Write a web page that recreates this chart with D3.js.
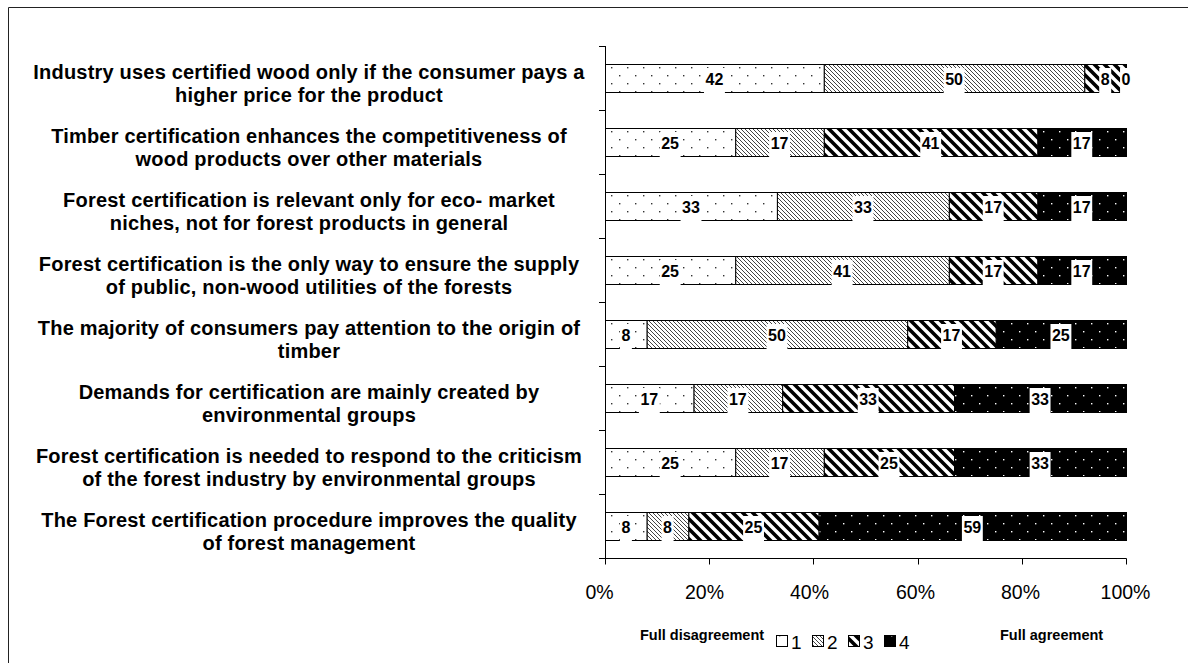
<!DOCTYPE html>
<html>
<head>
<meta charset="utf-8">
<script src="https://cdn.jsdelivr.net/npm/d3@7"></script>
<style>
  html, body { margin: 0; padding: 0; background: #fff; }
  svg { display: block; }
  text { font-family: "Liberation Sans", Arial, sans-serif; fill: #000; }
</style>
</head>
<body>
<svg id="chart" width="1188" height="663"></svg>
<script>
// Survey statements (two lines each), top to bottom
const statements = [
  ["Industry uses certified wood only if the consumer pays a", "higher price for the product"],
  ["Timber certification enhances the competitiveness of", "wood products over other materials"],
  ["Forest certification is relevant only for eco- market", "niches, not for forest products in general"],
  ["Forest certification is the only way to ensure the supply", "of public, non-wood utilities of the forests"],
  ["The majority of consumers pay attention to the origin of", "timber"],
  ["Demands for certification are mainly created by", "environmental groups"],
  ["Forest certification is needed to respond to the criticism", "of the  forest industry by environmental groups"],
  ["The Forest certification procedure improves the quality", "of forest management"]
];

// Share of answers (%) per agreement level 1..4, same order as statements
const level1 = [42, 25, 33, 25, 8, 17, 25, 8];
const level2 = [50, 17, 33, 41, 50, 17, 17, 8];
const level3 = [8, 41, 17, 17, 17, 33, 25, 25];
const level4 = [0, 17, 17, 17, 25, 33, 33, 59];

const levelKeys = ["1", "2", "3", "4"];
const xTicks = [0, 20, 40, 60, 80, 100];

const rows = statements.map((s, i) => ({
  id: i,
  label: s,
  "1": level1[i], "2": level2[i], "3": level3[i], "4": level4[i]
}));

const svg = d3.select("#chart");

// Fill patterns for the four levels
const defs = svg.append("defs");
function dotPattern(id, bg, dot) {
  const p = defs.append("pattern").attr("id", id)
    .attr("patternUnits", "userSpaceOnUse").attr("width", 16).attr("height", 16);
  p.append("rect").attr("width", 16).attr("height", 16).attr("fill", bg);
  p.append("rect").attr("x", 3).attr("y", 3).attr("width", 1.4).attr("height", 1.4).attr("fill", dot);
  p.append("rect").attr("x", 11).attr("y", 11).attr("width", 1.4).attr("height", 1.4).attr("fill", dot);
}
function diagPattern(id, size, width, color) {
  const p = defs.append("pattern").attr("id", id)
    .attr("patternUnits", "userSpaceOnUse").attr("width", size).attr("height", size);
  p.append("rect").attr("width", size).attr("height", size).attr("fill", "#fff");
  const s = size;
  p.append("path")
    .attr("d", `M${-s},0 L${s},${2 * s} M0,0 L${s},${s} M0,${-s} L${2 * s},${s}`)
    .attr("stroke", color).attr("stroke-width", width).attr("fill", "none");
}
dotPattern("pat1", "#fff", "#333");
diagPattern("pat2", 4, 1, "#444");
diagPattern("pat3", 10, 3.6, "#000");
dotPattern("pat4", "#000", "#fff");
const fillFor = k => `url(#pat${k})`;

// Outer frame (left and top edges)
svg.append("path")
  .attr("d", "M8.5,663 L8.5,7.5 L1188,7.5")
  .attr("fill", "none").attr("stroke", "#222").attr("stroke-width", 1);

const plotLeft = 605, plotRight = 1126, plotTop = 46, plotBottom = 558;

const x = d3.scaleLinear().domain([0, 100]).range([plotLeft, plotRight]);
const y = d3.scaleBand().domain(rows.map(d => d.id)).range([plotTop, plotBottom])
  .paddingInner(0.5625).paddingOuter(0.28125);

const stacked = d3.stack().keys(levelKeys)(rows);

// Bars
const g = svg.append("g");
stacked.forEach(layer => {
  g.selectAll(null).data(layer.filter(d => d[1] - d[0] > 0)).enter().append("rect")
    .attr("x", d => x(d[0]) + 0.5)
    .attr("y", d => Math.round(y(d.data.id)) + 0.5)
    .attr("width", d => x(d[1]) - x(d[0]))
    .attr("height", Math.round(y.bandwidth()))
    .attr("fill", fillFor(layer.key))
    .attr("stroke", "#000").attr("stroke-width", 1);
});

// Value labels with white backing
stacked.forEach(layer => {
  layer.forEach(d => {
    const v = d[1] - d[0];
    const cx = x((d[0] + d[1]) / 2);
    const cy = Math.round(y(d.data.id)) + y.bandwidth() / 2;
    const t = g.append("text")
      .attr("x", cx).attr("y", cy + 1)
      .attr("text-anchor", "middle").attr("dominant-baseline", "central")
      .attr("font-weight", "bold").attr("font-size", 16)
      .text(v);
    const bb = t.node().getBBox();
    g.insert("rect", () => t.node())
      .attr("x", bb.x - 1.5).attr("y", cy - 10)
      .attr("width", bb.width + 3).attr("height", 25)
      .attr("fill", "#fff");
  });
});

// Category axis
const ax = svg.append("g");
ax.append("line")
  .attr("x1", plotLeft + 0.5).attr("x2", plotLeft + 0.5)
  .attr("y1", plotTop).attr("y2", plotBottom + 5)
  .attr("stroke", "#000");
d3.range(rows.length + 1).forEach(i => {
  const yy = Math.round(plotTop + i * y.step()) + 0.5;
  ax.append("line").attr("x1", plotLeft - 6).attr("x2", plotLeft + 0.5)
    .attr("y1", yy).attr("y2", yy).attr("stroke", "#000");
});

// Statement labels
rows.forEach(d => {
  const cy = y(d.id) + y.bandwidth() / 2;
  const t = svg.append("text")
    .attr("x", 309).attr("text-anchor", "middle")
    .attr("font-weight", "bold").attr("font-size", 20)
    .attr("letter-spacing", 0.2);
  t.append("tspan").attr("x", 309).attr("y", cy + 0.5).text(d.label[0]);
  t.append("tspan").attr("x", 309).attr("y", cy + 23.5).text(d.label[1]);
});

// Value axis
const xAxis = svg.append("g").attr("transform", `translate(0,${plotBottom + 0.5})`);
xAxis.append("line").attr("x1", plotLeft).attr("x2", plotRight + 0.5)
  .attr("stroke", "#000");
xTicks.forEach(v => {
  const xx = Math.round(x(v)) + 0.5;
  xAxis.append("line").attr("x1", xx).attr("x2", xx).attr("y1", 0).attr("y2", 6)
    .attr("stroke", "#000");
  xAxis.append("text").attr("x", xx - 6 + v * 0.05).attr("y", 40)
    .attr("text-anchor", "middle").attr("font-size", 19.5)
    .text(v + "%");
});

// Legend
const lg = svg.append("g");
lg.append("text").attr("x", 640).attr("y", 640)
  .attr("font-weight", "bold").attr("font-size", 14.5).text("Full disagreement");
lg.append("text").attr("x", 1000).attr("y", 640)
  .attr("font-weight", "bold").attr("font-size", 14.5).text("Full agreement");
const legendX = d3.scalePoint().domain(levelKeys).range([776, 884]);
levelKeys.forEach(k => {
  const lx = legendX(k);
  lg.append("rect").attr("x", lx + 0.5).attr("y", 635.5).attr("width", 11).attr("height", 11)
    .attr("fill", fillFor(k)).attr("stroke", "#000");
  lg.append("text").attr("x", lx + 15).attr("y", 649)
    .attr("font-size", 19).text(k);
});
</script>
</body>
</html>
